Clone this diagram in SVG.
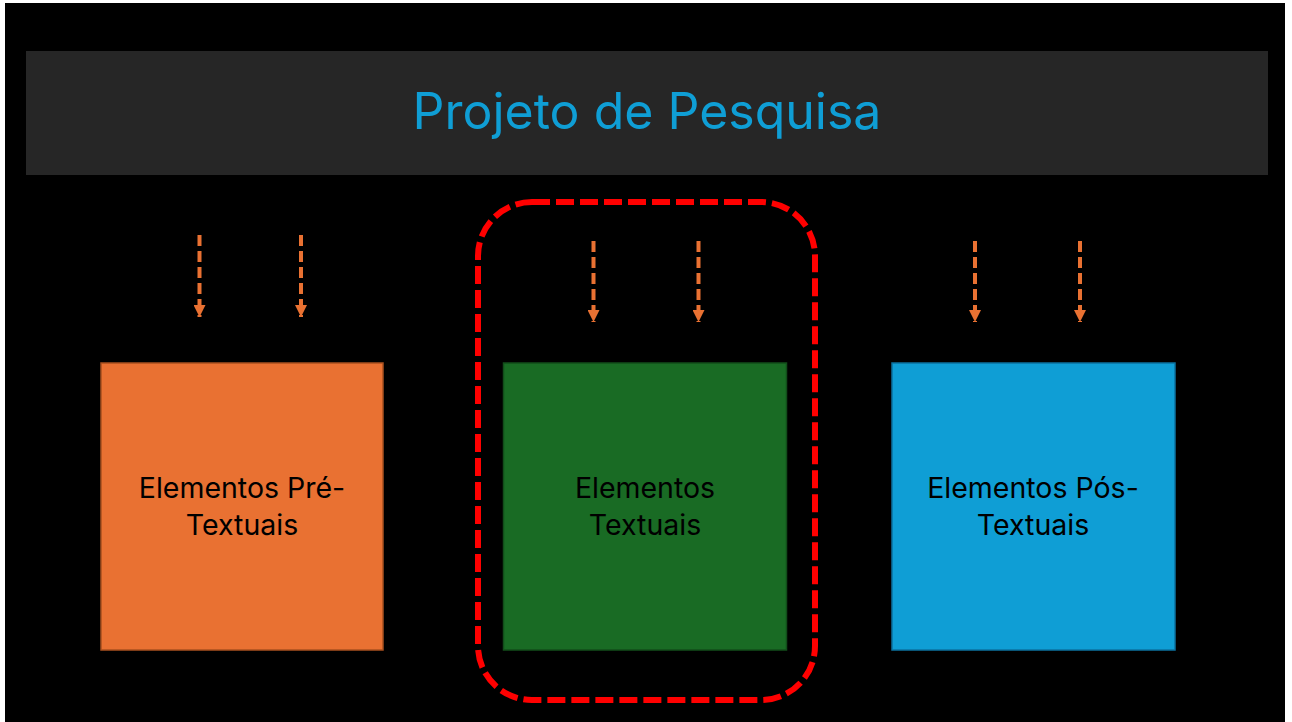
<svg xmlns="http://www.w3.org/2000/svg" width="1292" height="722" viewBox="0 0 1292 722">
<style>
.arrow{stroke:#E97132;stroke-width:4;stroke-dasharray:11 5;fill:none}
.box{stroke-width:1.5}
.lbl{font-family:Inter,"Open Sans","Liberation Sans",sans-serif;font-size:28.5px;fill:#000;text-anchor:middle}
.title{font-family:Inter,"Open Sans","Liberation Sans",sans-serif;font-size:50px;fill:#0F9ED5;text-anchor:middle}
</style>
<defs>
<marker id="ah2" viewBox="0 0 12 12" refX="12" refY="6" markerWidth="12" markerHeight="12" markerUnits="userSpaceOnUse" orient="auto">
<path d="M0,0 L12,6 L0,12 Z" fill="#E97132"/>
</marker>
</defs>
<rect x="0" y="0" width="1292" height="722" fill="#ffffff"/>
<rect x="5" y="3" width="1280" height="719" fill="#000000"/>
<g id="header">
<rect x="26" y="51" width="1242" height="124" fill="#262626"/>
<text class="title" x="647" y="129">Projeto de Pesquisa</text>
</g>
<g id="connectors">
<line class="arrow" x1="199.5" y1="235" x2="199.5" y2="317" marker-end="url(#ah2)"/>
<line class="arrow" x1="301" y1="235" x2="301" y2="317" marker-end="url(#ah2)"/>
<line class="arrow" x1="593.5" y1="241" x2="593.5" y2="322" marker-end="url(#ah2)"/>
<line class="arrow" x1="698.5" y1="241" x2="698.5" y2="322" marker-end="url(#ah2)"/>
<line class="arrow" x1="975" y1="241" x2="975" y2="322" marker-end="url(#ah2)"/>
<line class="arrow" x1="1080" y1="241" x2="1080" y2="322" marker-end="url(#ah2)"/>
</g>
<g id="pre">
<rect class="box" x="101" y="363" width="282" height="287" fill="#E97132" stroke="#A9501F"/>
<text class="lbl" x="242" y="498">Elementos Pré-</text>
<text class="lbl" x="242" y="535">Textuais</text>
</g>
<g id="textuais">
<rect class="box" x="503.5" y="363" width="283" height="287" fill="#196B24" stroke="#124D1A"/>
<text class="lbl" x="645" y="498">Elementos</text>
<text class="lbl" x="645" y="535">Textuais</text>
</g>
<g id="pos">
<rect class="box" x="892" y="363" width="283" height="287" fill="#0F9ED5" stroke="#0B72A0"/>
<text class="lbl" x="1033" y="498">Elementos Pós-</text>
<text class="lbl" x="1033" y="535">Textuais</text>
</g>
<g id="highlight">
<rect x="478" y="202" width="337" height="498" rx="54" ry="54" fill="none" stroke="#FF0000" stroke-width="6" stroke-dasharray="18 6"/>
</g>
</svg>
